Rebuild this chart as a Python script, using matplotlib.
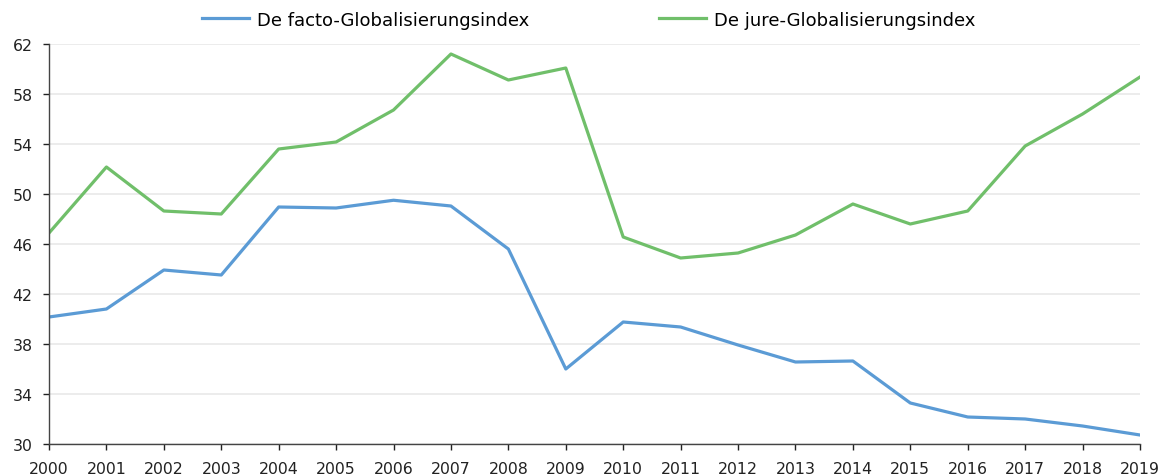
import matplotlib
matplotlib.use("Agg")
import matplotlib.pyplot as plt

plt.rcParams['font.family'] = ['DejaVu Sans']

years = list(range(2000, 2020))
de_facto = [40.16, 40.8, 43.92, 43.52, 48.96, 48.88, 49.5, 49.04, 45.6, 36.0,
            39.76, 39.36, 37.92, 36.56, 36.64, 33.28, 32.16, 32.0, 31.44, 30.72]
de_jure = [46.88, 52.16, 48.64, 48.4, 53.6, 54.16, 56.72, 61.2, 59.12, 60.08,
           46.56, 44.88, 45.28, 46.72, 49.2, 47.6, 48.64, 53.84, 56.4, 59.36]
labels = ["De facto-Globalisierungsindex", "De jure-Globalisierungsindex"]
yticks = list(range(30, 63, 4))

fig = plt.figure(figsize=(11.63, 4.77), dpi=100)
ax = fig.add_axes([49/1163, 32/477, (1140-49)/1163, 400/477])

ax.plot(years, de_facto, color="#5B9BD5", lw=2.3, label=labels[0], solid_joinstyle='round')
ax.plot(years, de_jure, color="#70BF6A", lw=2.3, label=labels[1], solid_joinstyle='round')

ax.set_xlim(2000, 2019)
ax.set_ylim(30, 62)
ax.set_xticks(years)
ax.set_yticks(yticks)
ax.tick_params(axis='both', labelsize=11.3, colors="#222222", width=1, direction='out')
ax.tick_params(axis='x', length=4, pad=8)
ax.tick_params(axis='y', length=4.3, pad=7.5)
ax.grid(axis='y', color="#ebebeb", lw=1.3)
ax.set_axisbelow(True)
for s in ['top', 'right']:
    ax.spines[s].set_visible(False)
for s in ['left', 'bottom']:
    ax.spines[s].set_color("#444444")
    ax.spines[s].set_linewidth(1)

fig.legend(loc='upper center', bbox_to_anchor=(0.506, 1.0), ncol=2, frameon=False,
           fontsize=13, handlelength=2.6, handletextpad=0.45, columnspacing=7.2,
           borderaxespad=0.25)

fig.savefig("out.png", dpi=100)
